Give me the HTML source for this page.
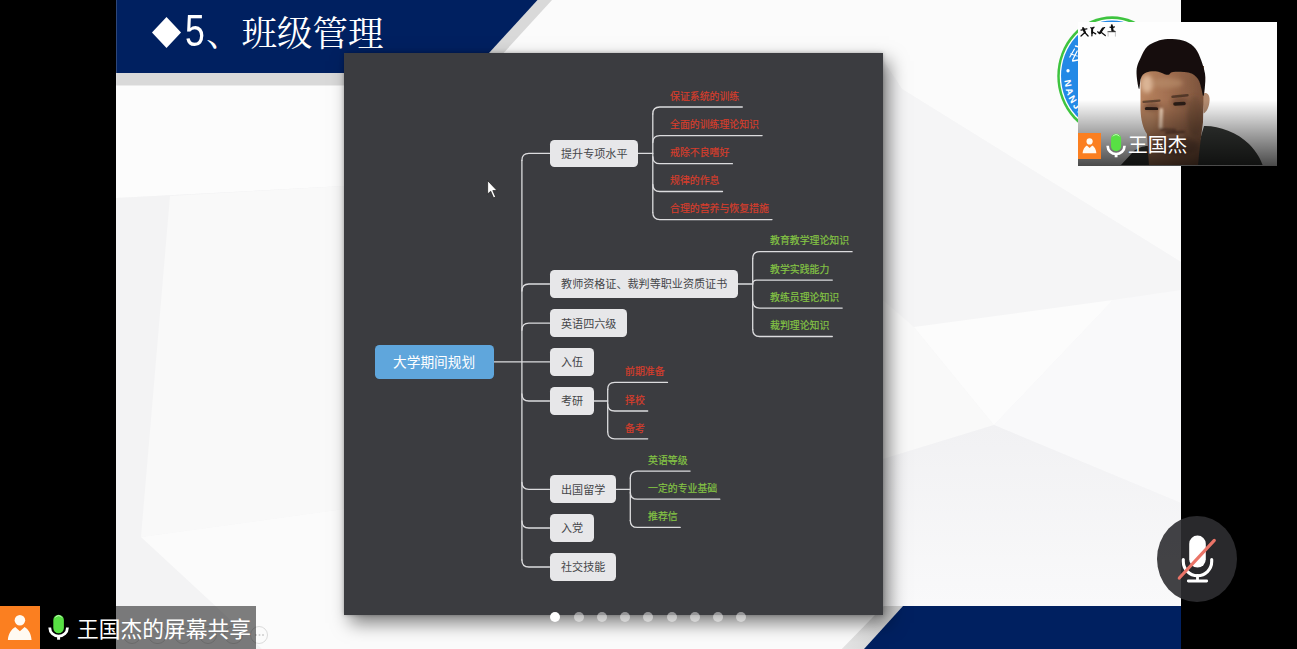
<!DOCTYPE html>
<html lang="zh-CN">
<head>
<meta charset="utf-8">
<title>王国杰的屏幕共享 - 5、班级管理</title>
<style>
*{box-sizing:border-box;margin:0;padding:0}
html,body{width:1297px;height:649px;overflow:hidden;background:#000;font-family:"Liberation Sans","Noto Sans CJK SC",sans-serif}
#stage{position:relative;width:1297px;height:649px;background:#000;overflow:hidden}
svg.lbl{display:block;overflow:visible}
svg.lbl text{font-family:"Liberation Sans","Noto Sans CJK SC",sans-serif}
svg.lbl.ttl text{font-family:"Liberation Serif","Noto Serif CJK SC",serif}
/* ---------- shared slide ---------- */
#share{position:absolute;left:116px;top:0;width:1064.6px;height:649px;background:#f6f6f7;overflow:hidden}
#share .bg{position:absolute;left:0;top:0}
header.banner{position:absolute;left:0;top:0;width:440px;height:86px}
header.banner h1{position:absolute;left:36.4px;top:0;height:64px;display:flex;align-items:flex-start;color:#fff;font-weight:400;white-space:nowrap}
header.banner .dia{position:absolute;left:0;top:17px;width:29px;height:31px}
header.banner .num{position:absolute;left:33px;top:5.6px;font-size:44px;line-height:50px;transform:scaleX(.81);transform-origin:0 0;letter-spacing:0}
header.banner svg.ttl{position:absolute;left:53.3px;top:14.6px}
/* ---------- mind map panel ---------- */
#panel{position:absolute;left:228px;top:53px;width:539px;height:561.6px;background:#3b3c40;box-shadow:6px 8px 17px rgba(0,0,0,.5),0 0 4px rgba(0,0,0,.25)}
#panel .wires{position:absolute;left:0;top:0}
.node{position:absolute;background:#e7e7e9;border-radius:4.5px;display:flex;align-items:center;justify-content:center}
.node.root{background:#5fa6dc}
svg.leaf{position:absolute}
#cursor{position:absolute;left:143px;top:126.9px;width:12.7px;height:20.1px;overflow:visible}
.dots{position:absolute;left:0;top:611.5px;height:10px;width:100%}
.dot{position:absolute;top:0;width:10px;height:10px;border-radius:50%;background:rgba(255,255,255,.46)}
.dot.on{background:#fff}
.pagectl{position:absolute;top:625.6px;width:18.4px;height:18.4px;border-radius:50%;border:1px solid rgba(120,120,120,.25)}
.pagectl b{position:absolute;left:4.2px;top:7.4px;width:2px;height:2px;border-radius:50%;background:rgba(120,120,120,.35);box-shadow:3.5px 0 0 rgba(120,120,120,.35),7px 0 0 rgba(120,120,120,.35)}
/* ---------- camera tile ---------- */
#logo{position:absolute;left:1056.9px;top:15.5px;width:110.2px;height:120px}
#cam{position:absolute;left:1077.8px;top:21.6px;width:199.2px;height:144.3px;background:#fff;overflow:hidden}
#cam .photo{position:absolute;left:-.4px;top:0;width:199.6px;height:143.9px}
#cam .fade{position:absolute;left:0;right:0;bottom:0;height:66px;background:linear-gradient(to bottom,rgba(0,0,0,0),rgba(0,0,0,.36) 50%,rgba(0,0,0,.71))}
#cam .who{position:absolute;left:0;top:111.4px;height:26px;display:flex;align-items:center}
.avatar{background:#fb7f20;display:block}
#cam .avatar{position:absolute;left:.2px;top:111.4px;width:23.2px;height:25.6px}
#cam .mic{position:absolute;left:27.8px;top:111.7px;width:20.4px;height:25.5px}
#cam svg.lbl{position:absolute;left:49.9px;top:113.35px}
/* ---------- share label ---------- */
#sharebar{position:absolute;left:0;top:605.7px;width:255.6px;height:43.3px;background:rgba(0,0,0,.5)}
#sharebar .avatar{position:absolute;left:0;top:0;width:39.8px;height:43.3px}
#sharebar .mic{position:absolute;left:47.5px;top:8.2px;width:21.4px;height:27px}
#sharebar svg.lbl{position:absolute;left:76.7px;top:11.9px}
/* ---------- mute button ---------- */
#mute{position:absolute;left:1157.2px;top:515.7px;width:79.8px;height:86.2px;border-radius:50%;background:rgba(45,46,49,.9)}
#mute svg{position:absolute;left:0;top:0;width:100%;height:100%}
</style>
</head>
<body>
<div id="stage">

  <main id="share" aria-label="shared screen">
    <svg class="bg" width="1064.6" height="649" viewBox="116 0 1064.6 649" aria-hidden="true">
      <defs>
        <linearGradient id="glow" x1="0" y1="0" x2="0" y2="1"><stop offset="0" stop-color="#f1f1f3"/><stop offset="1" stop-color="#f9f9fa"/></linearGradient>
        <linearGradient id="gband" x1="0" y1="0" x2="1" y2="0"><stop offset="0" stop-color="#e4e4e4"/><stop offset="1" stop-color="#cfcfcf"/></linearGradient>
      </defs>
      <!-- faint facets -->
      <polygon points="116,85 344,85 344,186 116,198" fill="#fcfcfc"/>
      <polygon points="116,198 344,186 344,649 116,649" fill="#f3f3f4"/>
      <polygon points="170,196 344,186 344,509 141,537" fill="#f9f9f9"/>
      <polygon points="141,537 344,509 344,614 883,614 883,649 262,649" fill="#fbfbfb"/>
      <polygon points="552,0 1181,0 1181,262 902,89 883,60 883,53 504,53" fill="#fbfbfb"/>
      <polygon points="883,60 902,89 1181,262 1181,503 994,425 883,459" fill="#f5f5f6"/>
      <polygon points="883,300 914,327 994,425 883,459" fill="#f9f9f9"/>
      <polygon points="914,327 1113,300 994,425" fill="#fcfcfc"/>
      <polygon points="1113,300 1181,290 1181,503 994,425" fill="#f9f9fa"/>
      <polygon points="883,459 994,425 1181,503 1181,606 883,606" fill="url(#glow)"/>
      <!-- header -->
      <polygon points="116.200,0 552,0 473.800,85.500 116.200,85.500" fill="#d9d9d9"/>
      <polygon points="116.200,0 537.500,0 470.700,73 116.200,73" fill="#002060"/>
      <!-- footer -->
      <polygon points="883.7,606 903,606 864,649 841.8,649" fill="url(#gband)"/>
      <polygon points="903,606 1181,606 1181,649 864,649" fill="#002060"/>
    </svg>

    <header class="banner">
      <h1>
        <svg class="dia" viewBox="0 0 29 31" aria-hidden="true"><polygon points="14.5,0 29,15.5 14.5,31 0,15.5" fill="#fff"/></svg>
        <span class="num">5</span>
        <svg class="lbl ttl" style="width:177.50px;height:35.50px;" viewBox="0 0 177.5 35.5" role="img" aria-label="、班级管理"><text x="0" y="31.24" font-size="35.5" fill="#ffffff">、班级管理</text></svg>
      </h1>
    </header>

    <i class="pagectl" style="left:6.8px"></i>
    <i class="pagectl" style="left:32.2px"></i>
    <i class="pagectl" style="left:57.6px"></i>
    <i class="pagectl" style="left:83.0px"></i>
    <i class="pagectl" style="left:108.4px"></i>
    <i class="pagectl" style="left:133.8px"><b></b></i>

    <section id="panel" aria-label="mind map">
      <svg class="wires" width="539.0" height="561.6" viewBox="0 0 539.0 561.6" fill="none" stroke="#dcdcde" stroke-width="1.3" stroke-linecap="round"><path d="M150.0 308.9H205.6"/><path d="M177.9 107.4V507.0"/><path d="M177.9 107.4Q177.9 100.4 184.9 100.4H205.6"/><path d="M177.9 238.0Q177.9 231.0 184.9 231.0H205.6"/><path d="M177.9 277.2Q177.9 270.2 184.9 270.2H205.6"/><path d="M177.9 341.0Q177.9 348.0 184.9 348.0H205.6"/><path d="M177.9 429.3Q177.9 436.3 184.9 436.3H205.6"/><path d="M177.9 468.0Q177.9 475.0 184.9 475.0H205.6"/><path d="M177.9 507.0Q177.9 514.0 184.9 514.0H205.6"/><path d="M294.2 100.4H308.8"/><path d="M308.8 61.0V159.6"/><path d="M308.8 61.0Q308.8 54.0 315.8 54.0H398.3"/><path d="M308.8 89.6Q308.8 82.6 315.8 82.6H418.1"/><path d="M308.8 103.7Q308.8 110.7 315.8 110.7H388.4"/><path d="M308.8 131.5Q308.8 138.5 315.8 138.5H378.5"/><path d="M308.8 159.6Q308.8 166.6 315.8 166.6H428.0"/><path d="M394.1 231.0H408.7"/><path d="M408.7 205.7V276.5"/><path d="M408.7 205.7Q408.7 198.7 415.7 198.7H508.1"/><path d="M408.7 231.0Q408.7 227.1 412.6 227.1H488.3"/><path d="M408.7 248.1Q408.7 255.1 415.7 255.1H498.2"/><path d="M408.7 276.5Q408.7 283.5 415.7 283.5H488.3"/><path d="M249.8 348.0H263.7"/><path d="M263.7 336.4V378.8"/><path d="M263.7 336.4Q263.7 329.4 270.7 329.4H323.5"/><path d="M263.7 351.0Q263.7 358.0 270.7 358.0H303.7"/><path d="M263.7 378.8Q263.7 385.8 270.7 385.8H303.7"/><path d="M272.0 436.3H286.3"/><path d="M286.3 425.1V467.4"/><path d="M286.3 425.1Q286.3 418.1 293.3 418.1H346.1"/><path d="M286.3 439.2Q286.3 446.2 293.3 446.2H375.8"/><path d="M286.3 467.4Q286.3 474.4 293.3 474.4H336.2"/></svg>
<div class="node root" style="left:30.8px;top:291.5px;width:119.2px;height:34.8px"><svg class="lbl" style="width:82.20px;height:13.70px;" viewBox="0 0 82.2 13.7" role="img" aria-label="大学期间规划"><text x="0" y="12.06" font-size="13.7" fill="#ffffff">大学期间规划</text></svg></div>
<div class="node" style="left:205.6px;top:86.5px;width:88.6px;height:27.8px"><svg class="lbl" style="width:66.60px;height:11.10px;" viewBox="0 0 66.6 11.1" role="img" aria-label="提升专项水平"><text x="0" y="9.77" font-size="11.1" fill="#45464a">提升专项水平</text></svg></div>
<svg class="lbl leaf" style="width:69.30px;height:9.90px;left:326.00px;top:37.75px;" viewBox="0 0 69.3 9.9" role="img" aria-label="保证系统的训练"><text x="0" y="8.71" font-size="9.9" fill="#d63c2c" stroke="#d63c2c" stroke-width="0.18">保证系统的训练</text></svg>
<svg class="lbl leaf" style="width:89.10px;height:9.90px;left:326.00px;top:66.35px;" viewBox="0 0 89.1 9.9" role="img" aria-label="全面的训练理论知识"><text x="0" y="8.71" font-size="9.9" fill="#d63c2c" stroke="#d63c2c" stroke-width="0.18">全面的训练理论知识</text></svg>
<svg class="lbl leaf" style="width:59.40px;height:9.90px;left:326.00px;top:94.45px;" viewBox="0 0 59.4 9.9" role="img" aria-label="戒除不良嗜好"><text x="0" y="8.71" font-size="9.9" fill="#d63c2c" stroke="#d63c2c" stroke-width="0.18">戒除不良嗜好</text></svg>
<svg class="lbl leaf" style="width:49.50px;height:9.90px;left:326.00px;top:122.25px;" viewBox="0 0 49.5 9.9" role="img" aria-label="规律的作息"><text x="0" y="8.71" font-size="9.9" fill="#d63c2c" stroke="#d63c2c" stroke-width="0.18">规律的作息</text></svg>
<svg class="lbl leaf" style="width:99.00px;height:9.90px;left:326.00px;top:150.35px;" viewBox="0 0 99 9.9" role="img" aria-label="合理的营养与恢复措施"><text x="0" y="8.71" font-size="9.9" fill="#d63c2c" stroke="#d63c2c" stroke-width="0.18">合理的营养与恢复措施</text></svg>
<div class="node" style="left:205.6px;top:217.1px;width:188.5px;height:27.8px"><svg class="lbl" style="width:166.50px;height:11.10px;" viewBox="0 0 166.5 11.1" role="img" aria-label="教师资格证、裁判等职业资质证书"><text x="0" y="9.77" font-size="11.1" fill="#45464a">教师资格证、裁判等职业资质证书</text></svg></div>
<svg class="lbl leaf" style="width:79.20px;height:9.90px;left:425.90px;top:182.45px;" viewBox="0 0 79.2 9.9" role="img" aria-label="教育教学理论知识"><text x="0" y="8.71" font-size="9.9" fill="#84c444" stroke="#84c444" stroke-width="0.18">教育教学理论知识</text></svg>
<svg class="lbl leaf" style="width:59.40px;height:9.90px;left:425.90px;top:210.85px;" viewBox="0 0 59.4 9.9" role="img" aria-label="教学实践能力"><text x="0" y="8.71" font-size="9.9" fill="#84c444" stroke="#84c444" stroke-width="0.18">教学实践能力</text></svg>
<svg class="lbl leaf" style="width:69.30px;height:9.90px;left:425.90px;top:238.85px;" viewBox="0 0 69.3 9.9" role="img" aria-label="教练员理论知识"><text x="0" y="8.71" font-size="9.9" fill="#84c444" stroke="#84c444" stroke-width="0.18">教练员理论知识</text></svg>
<svg class="lbl leaf" style="width:59.40px;height:9.90px;left:425.90px;top:267.25px;" viewBox="0 0 59.4 9.9" role="img" aria-label="裁判理论知识"><text x="0" y="8.71" font-size="9.9" fill="#84c444" stroke="#84c444" stroke-width="0.18">裁判理论知识</text></svg>
<div class="node" style="left:205.6px;top:256.3px;width:77.5px;height:27.8px"><svg class="lbl" style="width:55.50px;height:11.10px;" viewBox="0 0 55.5 11.1" role="img" aria-label="英语四六级"><text x="0" y="9.77" font-size="11.1" fill="#45464a">英语四六级</text></svg></div>
<div class="node" style="left:205.6px;top:295.1px;width:44.2px;height:27.8px"><svg class="lbl" style="width:22.20px;height:11.10px;" viewBox="0 0 22.2 11.1" role="img" aria-label="入伍"><text x="0" y="9.77" font-size="11.1" fill="#45464a">入伍</text></svg></div>
<div class="node" style="left:205.6px;top:334.1px;width:44.2px;height:27.8px"><svg class="lbl" style="width:22.20px;height:11.10px;" viewBox="0 0 22.2 11.1" role="img" aria-label="考研"><text x="0" y="9.77" font-size="11.1" fill="#45464a">考研</text></svg></div>
<svg class="lbl leaf" style="width:39.60px;height:9.90px;left:280.90px;top:313.15px;" viewBox="0 0 39.6 9.9" role="img" aria-label="前期准备"><text x="0" y="8.71" font-size="9.9" fill="#d63c2c" stroke="#d63c2c" stroke-width="0.18">前期准备</text></svg>
<svg class="lbl leaf" style="width:19.80px;height:9.90px;left:280.90px;top:341.75px;" viewBox="0 0 19.8 9.9" role="img" aria-label="择校"><text x="0" y="8.71" font-size="9.9" fill="#d63c2c" stroke="#d63c2c" stroke-width="0.18">择校</text></svg>
<svg class="lbl leaf" style="width:19.80px;height:9.90px;left:280.90px;top:369.55px;" viewBox="0 0 19.8 9.9" role="img" aria-label="备考"><text x="0" y="8.71" font-size="9.9" fill="#d63c2c" stroke="#d63c2c" stroke-width="0.18">备考</text></svg>
<div class="node" style="left:205.6px;top:422.4px;width:66.4px;height:27.8px"><svg class="lbl" style="width:44.40px;height:11.10px;" viewBox="0 0 44.4 11.1" role="img" aria-label="出国留学"><text x="0" y="9.77" font-size="11.1" fill="#45464a">出国留学</text></svg></div>
<svg class="lbl leaf" style="width:39.60px;height:9.90px;left:303.50px;top:401.85px;" viewBox="0 0 39.6 9.9" role="img" aria-label="英语等级"><text x="0" y="8.71" font-size="9.9" fill="#84c444" stroke="#84c444" stroke-width="0.18">英语等级</text></svg>
<svg class="lbl leaf" style="width:69.30px;height:9.90px;left:303.50px;top:429.95px;" viewBox="0 0 69.3 9.9" role="img" aria-label="一定的专业基础"><text x="0" y="8.71" font-size="9.9" fill="#84c444" stroke="#84c444" stroke-width="0.18">一定的专业基础</text></svg>
<svg class="lbl leaf" style="width:29.70px;height:9.90px;left:303.50px;top:458.15px;" viewBox="0 0 29.7 9.9" role="img" aria-label="推荐信"><text x="0" y="8.71" font-size="9.9" fill="#84c444" stroke="#84c444" stroke-width="0.18">推荐信</text></svg>
<div class="node" style="left:205.6px;top:461.1px;width:44.2px;height:27.8px"><svg class="lbl" style="width:22.20px;height:11.10px;" viewBox="0 0 22.2 11.1" role="img" aria-label="入党"><text x="0" y="9.77" font-size="11.1" fill="#45464a">入党</text></svg></div>
<div class="node" style="left:205.6px;top:500.1px;width:66.4px;height:27.8px"><svg class="lbl" style="width:44.40px;height:11.10px;" viewBox="0 0 44.4 11.1" role="img" aria-label="社交技能"><text x="0" y="9.77" font-size="11.1" fill="#45464a">社交技能</text></svg></div>
      <svg id="cursor" viewBox="0 0 12 19" aria-hidden="true"><path d="M.6.6V13.3L3.5 10.6 6.2 16.9 8.2 16.1 5.5 10H9.5Z" fill="#fff" stroke="#222" stroke-width=".7" stroke-linejoin="round"/></svg>
    </section>

    <nav class="dots" aria-label="pages"><i class="dot on" style="left:434.4px"></i><i class="dot" style="left:457.6px"></i><i class="dot" style="left:480.9px"></i><i class="dot" style="left:504.1px"></i><i class="dot" style="left:527.4px"></i><i class="dot" style="left:550.6px"></i><i class="dot" style="left:573.9px"></i><i class="dot" style="left:597.1px"></i><i class="dot" style="left:620.4px"></i></nav>
  </main>

  <div id="logo" role="img" aria-label="Nanjing logo">
    <svg viewBox="-60 -60 120 120" width="110.2" height="120" preserveAspectRatio="none">
      <defs><path id="arcb" d="M-52.2 0a52.2 52.2 0 0 0 104.4 0"/></defs>
      <circle r="59.7" fill="#3ec43f"/>
      <circle r="57" fill="#fff"/>
      <circle r="55.6" fill="#2389e6"/>
      <circle r="37" fill="#3db54a"/>
      <circle r="35.6" fill="#fff"/>
      <circle cx="-48" cy="-5.3" r="1.8" fill="#fff"/>
      <path d="M-46-19l5-8m-2 11l5-9m-7 3l7 2m-5 5l6-1m-3-14l4 1" stroke="#fff" stroke-width="1.3" fill="none" stroke-linecap="round"/>
      <text font-family="Liberation Sans, sans-serif" font-weight="700" font-size="10" fill="#fff" letter-spacing="1.85"><textPath href="#arcb" startOffset="4.2">NANJING</textPath></text>
    </svg>
  </div>
  <aside id="cam" aria-label="camera: 王国杰">
    <svg class="photo" viewBox="0 0 199.6 143.9" aria-hidden="true">
      <defs>
        <filter id="soft" x="-5%" y="-5%" width="110%" height="110%"><feGaussianBlur stdDeviation=".55"/></filter>
        <filter id="soft2" x="-30%" y="-30%" width="160%" height="160%"><feGaussianBlur stdDeviation="2"/></filter>
        <filter id="soft3" x="-30%" y="-30%" width="160%" height="160%"><feGaussianBlur stdDeviation="1"/></filter>
        <linearGradient id="skin" x1="0" y1="0" x2="1" y2="0"><stop offset="0" stop-color="#b9845f"/><stop offset=".4" stop-color="#a47152"/><stop offset="1" stop-color="#7a523b"/></linearGradient>
        <clipPath id="faceclip"><path d="M63.5 44V88C64 98 66 106 70 112L72 144H121C122 130 124 115 126 100L127 44Z"/></clipPath>
      </defs>
      <rect width="199.6" height="143.9" fill="#fefefe"/>
      <g filter="url(#soft)">
        <!-- shirt -->
        <path d="M127 104C141 103.500 160 110 172 122 180 130 184 138 186 144H118C120 130 123 117 127 104Z" fill="#393a37"/>
        <path d="M43 144 56 130C60 126 66 124 71 124L73 144Z" fill="#393a37"/>
        <!-- ear -->
        <path d="M125.500 72C129 69.500 132.800 72 132.600 78 132.400 84 130 90 126.500 91.500Z" fill="#b38b6f"/>
        <!-- face + neck -->
        <path d="M63.500 44V88C64 98 66 106 70 112L72 144H121C122 130 124 115 126 100L127 44Z" fill="url(#skin)"/>
      </g>
      <g clip-path="url(#faceclip)">
        <g filter="url(#soft2)">
          <ellipse cx="70" cy="62" rx="6" ry="9" fill="#e2bd9f" opacity=".85"/>
          <ellipse cx="90" cy="61" rx="16" ry="5" fill="#b78a69" opacity=".7"/>
          <ellipse cx="118" cy="94" rx="8" ry="20" fill="#60412f" opacity=".45"/>
          <ellipse cx="100" cy="124" rx="22" ry="9" fill="#5a3d2d" opacity=".55"/>
          <ellipse cx="72" cy="100" rx="6" ry="10" fill="#b98b6a" opacity=".5"/>
          <ellipse cx="74.500" cy="84.500" rx="8" ry="4.500" fill="#5a3a2a" opacity=".5"/>
          <ellipse cx="103" cy="79.500" rx="8.500" ry="4.500" fill="#5a3a2a" opacity=".5"/>
        </g>
        <g filter="url(#soft3)">
          <path d="M84.300 88 83.600 105" stroke="#f3d3b8" stroke-width="3.800" stroke-linecap="round" fill="none"/>
          <path d="M84 107.500 98 108" stroke="#5b3a2b" stroke-width="2.400" stroke-linecap="round" fill="none" opacity=".75"/>
          <path d="M89 111 107 110" stroke="#4c2f25" stroke-width="2" stroke-linecap="round" fill="none" opacity=".8"/>
          <path d="M92 114.500 106 113.500" stroke="#b58a70" stroke-width="2" stroke-linecap="round" fill="none" opacity=".6"/>
        </g>
      </g>
      <g filter="url(#soft)" fill="none" stroke="#2b1c15" stroke-linecap="round">
        <path d="M66.500 79.800 82.500 78.600" stroke-width="2.200" opacity=".55"/>
        <path d="M95.500 74.800 110.500 73.200" stroke-width="2.400" opacity=".6"/>
        <path d="M69.500 86.600 79.500 86.900" stroke-width="3.400"/>
        <path d="M98 82 107 81.500" stroke-width="3.600"/>
      </g>
      <!-- hair -->
      <path filter="url(#soft)" d="M62.2 67.0C61.5 67.2 60.4 60.5 60.0 57.0C59.6 53.5 59.2 49.6 59.8 46.0C60.4 42.4 62.0 39.0 63.8 35.4C65.5 31.8 67.6 27.3 70.3 24.6C73.0 21.9 76.6 20.5 80.0 19.2C83.4 17.9 86.4 17.1 90.7 17.0C95.0 16.9 101.6 17.3 105.9 18.6C110.2 19.9 113.7 21.8 116.6 24.6C119.5 27.4 121.2 30.9 123.1 35.4C125.0 39.9 127.2 46.5 128.0 51.6C128.8 56.7 128.1 62.3 127.8 66.0C127.5 69.7 126.9 73.9 126.3 74.0C125.7 74.1 125.3 69.5 124.4 66.7C123.5 63.9 123.0 59.6 121.0 57.0C119.0 54.4 116.5 52.0 112.3 50.8C108.1 49.6 99.7 49.6 96.1 49.9C92.5 50.2 93.4 52.9 90.7 52.8C88.0 52.7 83.6 49.8 80.0 49.4C76.4 49.0 71.9 49.4 69.2 50.5C66.5 51.6 65.2 53.2 64.0 56.0C62.8 58.8 62.9 66.8 62.2 67.0Z" fill="#141110"/>
      <!-- tiny athletes watermark -->
      <g fill="none" stroke="#0d0d0d" stroke-width="1.250" stroke-linecap="round" stroke-linejoin="round" transform="translate(.4 0)">
        <path d="M5.600 5.700 7.400 10.500 3.600 14M7.400 10.500 10.700 14M6.300 7.300 9.500 6.800M6 7.600 3.600 8.200" /><path d="M5.900 6.500 7.600 10.600" stroke-width="2.100"/>
        <path d="M14.900 5.700 14.500 13.800M14.700 9.800 18.300 11.900M14.800 7 16.600 5.200M14.800 7 13.400 5.600"/><path d="M14.800 7 14.700 11" stroke-width="1.900"/>
        <path d="M20.300 9.800 22 11.500 25.900 5.900M23.700 10.300 27.900 13.600M25.200 7 27.200 5.600"/><path d="M22.600 10.800 25.400 6.700" stroke-width="2.200"/>
        <path d="M34.500 4.300 35.100 8.800 37.400 9.400M34.700 5.600 37 4.900M34.700 5.600 32.600 5.100"/><path d="M34.600 4.600 35.100 8.600" stroke-width="2.200"/><circle cx="34.400" cy="3.300" r="1" fill="#0d0d0d" stroke="none"/>
        <path d="M30.600 9.700H38" stroke="#333" stroke-width="1"/>
        <path d="M30.700 14.200V10M38 14.200V10" stroke="#b5b5b5" stroke-width=".8"/>
      </g>
    </svg>
    <div class="fade"></div>
    <span class="avatar"><svg viewBox="0 0 40 43.3" width="100%" height="100%" preserveAspectRatio="none" aria-hidden="true"><circle cx="20" cy="14.3" r="5.3" fill="#fffaf2"/><path d="M7.900 34.100C8.300 28 11.500 23.200 15.300 21.100L20 25.300 24.700 21.100C28.500 23.200 31.400 28 31.700 34.100Z" fill="#fffaf2"/></svg></span>
    <svg class="mic" viewBox="0 0 21.4 27" preserveAspectRatio="none" aria-hidden="true"><rect x="5.300" y=".8" width="10.600" height="18.500" rx="5.300" fill="#58e044"/><path d="M7.500 3.200a3.600 3.600 0 0 1 6.200 0" stroke="#e9ffe4" stroke-width="1" fill="none" stroke-linecap="round" opacity=".8"/><path d="M1.800 13.400v.6a8.800 8.200 0 0 0 17.600 0v-.6" fill="none" stroke="#fff" stroke-width="2.800"/><path d="M10.600 23v2.700" stroke="#fff" stroke-width="3"/></svg>
    <svg class="lbl" style="width:59.40px;height:19.80px;" viewBox="0 0 59.4 19.8" role="img" aria-label="王国杰"><text x="0" y="17.42" font-size="19.8" fill="#ffffff">王国杰</text></svg>
  </aside>

  <footer id="sharebar">
    <span class="avatar"><svg viewBox="0 0 40 43.3" width="100%" height="100%" preserveAspectRatio="none" aria-hidden="true"><circle cx="20" cy="14.3" r="5.3" fill="#fffaf2"/><path d="M7.900 34.100C8.300 28 11.500 23.200 15.300 21.100L20 25.300 24.700 21.100C28.500 23.200 31.400 28 31.700 34.100Z" fill="#fffaf2"/></svg></span>
    <svg class="mic" viewBox="0 0 21.4 27" preserveAspectRatio="none" aria-hidden="true"><rect x="5.300" y=".8" width="10.600" height="18.500" rx="5.300" fill="#58e044"/><path d="M7.500 3.200a3.600 3.600 0 0 1 6.200 0" stroke="#e9ffe4" stroke-width="1" fill="none" stroke-linecap="round" opacity=".8"/><path d="M1.800 13.400v.6a8.800 8.200 0 0 0 17.600 0v-.6" fill="none" stroke="#fff" stroke-width="2.800"/><path d="M10.600 23v2.700" stroke="#fff" stroke-width="3"/></svg>
    <svg class="lbl" style="width:174.00px;height:21.75px;" viewBox="0 0 174 21.75" role="img" aria-label="王国杰的屏幕共享"><text x="0" y="19.14" font-size="21.75" fill="#ffffff">王国杰的屏幕共享</text></svg>
  </footer>

  <button id="mute" aria-label="unmute" style="border:0">
    <svg viewBox="0 0 79.8 86.2" aria-hidden="true">
      <rect x="32.2" y="19.6" width="16.6" height="32" rx="8.3" fill="#fff"/>
      <path d="M26.300 43.500v2a14.200 14.200 0 0 0 28.400 0v-2" fill="none" stroke="#fff" stroke-width="3.100" stroke-linecap="round"/>
      <path d="M40.5 59.5v4.500M31.3 65h18.400" fill="none" stroke="#fff" stroke-width="2.800" stroke-linecap="round"/>
      <path d="M22.300 62 57.300 24.400" stroke="#ea7468" stroke-width="3.200" stroke-linecap="round"/>
    </svg>
  </button>
</div>
</body>
</html>
